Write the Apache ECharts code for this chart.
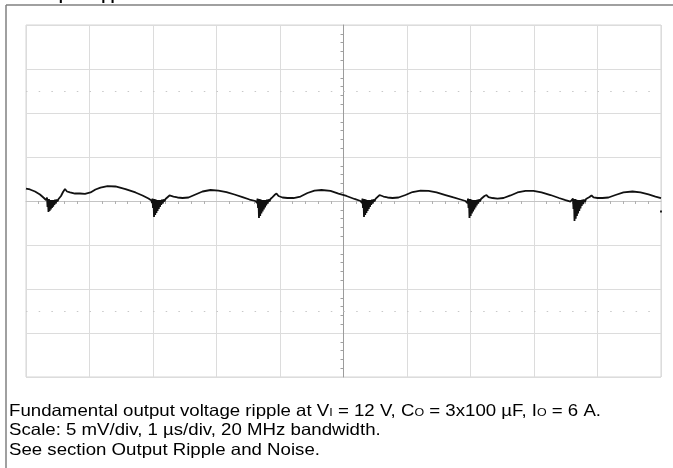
<!DOCTYPE html>
<html><head><meta charset="utf-8">
<script src="https://cdn.jsdelivr.net/npm/echarts@6/dist/echarts.min.js"></script>
<style>html,body{margin:0;padding:0;background:#fff}#c{width:673px;height:468px}</style>
</head><body><div id="c"></div>
<script>
// Axis settings: time in µs (1 µs/div), ripple in mV (5 mV/div)
const xMin = -5, xMax = 5, xStep = 1;
const yMin = -20, yMax = 20, yStep = 5;
const dottedRows = [12.5, -12.5];
const edgeMarker = [5.0, -1.2];

// Trace: [time µs, ripple mV]
const lead = [[-5.0,1.42],[-4.937,1.31],[-4.858,1.08],[-4.78,0.74],[-4.717,0.34],[-4.685,0.11]];
const dip1 = [[-4.677,-0.11],[-4.669,0.40],[-4.661,-0.68],[-4.654,0.23],[-4.646,-1.25],[-4.638,0.23],[-4.628,-1.14],[-4.619,0.11],[-4.609,-0.97],[-4.6,0.11],[-4.591,-0.8],[-4.581,0.11],[-4.572,-0.63],[-4.562,0.11],[-4.553,-0.45],[-4.543,0.17],[-4.531,-0.28],[-4.518,0.17],[-4.504,-0.06],[-4.488,0.23]];
const cycle1 = [[-4.449,0.57],[-4.417,1.02],[-4.386,1.36],[-4.354,1.08],[-4.307,0.97],[-4.228,0.85],[-4.15,0.85],[-4.071,0.8],[-3.984,0.97],[-3.906,1.31],[-3.827,1.53],[-3.717,1.7],[-3.591,1.65],[-3.433,1.36],[-3.276,0.97],[-3.165,0.63],[-3.071,0.28],[-3.024,0.06]];
const dip2 = [[-3.016,-0.23],[-3.008,0.28],[-3.0,-0.8],[-2.992,0.23],[-2.984,-1.82],[-2.975,0.23],[-2.965,-1.59],[-2.956,0.17],[-2.946,-1.36],[-2.937,0.11],[-2.928,-1.14],[-2.918,0.11],[-2.909,-0.91],[-2.899,0.11],[-2.89,-0.68],[-2.88,0.11],[-2.871,-0.45],[-2.86,0.17],[-2.847,-0.28],[-2.835,0.17],[-2.819,-0.06],[-2.803,0.23]];
const cycle2 = [[-2.772,0.34],[-2.74,0.63],[-2.709,0.8],[-2.677,0.51],[-2.614,0.4],[-2.535,0.34],[-2.441,0.4],[-2.331,0.74],[-2.22,1.08],[-2.094,1.25],[-1.969,1.19],[-1.843,1.02],[-1.717,0.74],[-1.591,0.45],[-1.48,0.17],[-1.386,0.0]];
const dip3 = [[-1.362,-0.23],[-1.354,0.28],[-1.346,-0.8],[-1.339,0.23],[-1.331,-1.93],[-1.321,0.23],[-1.312,-1.7],[-1.302,0.17],[-1.293,-1.42],[-1.283,0.11],[-1.274,-1.19],[-1.265,0.11],[-1.255,-0.97],[-1.246,0.11],[-1.236,-0.74],[-1.227,0.11],[-1.217,-0.51],[-1.206,0.17],[-1.194,-0.28],[-1.181,0.17],[-1.165,-0.06],[-1.15,0.23]];
const cycle3 = [[-1.118,0.45],[-1.087,0.68],[-1.055,0.85],[-1.024,0.57],[-0.961,0.4],[-0.882,0.34],[-0.787,0.34],[-0.677,0.51],[-0.567,0.91],[-0.457,1.19],[-0.346,1.25],[-0.205,1.14],[-0.079,0.85],[0.047,0.57],[0.173,0.23],[0.268,0.0]];
const dip4 = [[0.291,-0.23],[0.299,0.28],[0.307,-0.8],[0.315,0.23],[0.323,-1.82],[0.332,0.23],[0.342,-1.59],[0.351,0.17],[0.361,-1.36],[0.37,0.11],[0.38,-1.14],[0.389,0.11],[0.398,-0.91],[0.408,0.11],[0.417,-0.68],[0.427,0.11],[0.436,-0.45],[0.447,0.17],[0.46,-0.28],[0.472,0.17],[0.488,-0.06],[0.504,0.23]];
const cycle4 = [[0.535,0.45],[0.567,0.68],[0.598,0.8],[0.63,0.51],[0.693,0.4],[0.772,0.34],[0.866,0.4],[0.976,0.68],[1.087,1.02],[1.213,1.19],[1.339,1.14],[1.465,0.97],[1.606,0.68],[1.732,0.4],[1.843,0.17],[1.921,0.0]];
const dip5 = [[1.953,-0.23],[1.961,0.28],[1.969,-0.8],[1.976,0.23],[1.984,-1.93],[1.994,0.23],[2.003,-1.7],[2.013,0.17],[2.022,-1.42],[2.031,0.11],[2.041,-1.19],[2.05,0.11],[2.06,-0.97],[2.069,0.11],[2.079,-0.74],[2.088,0.11],[2.098,-0.51],[2.109,0.17],[2.121,-0.28],[2.134,0.17],[2.15,-0.06],[2.165,0.23]];
const cycle5 = [[2.189,0.34],[2.22,0.57],[2.252,0.68],[2.283,0.45],[2.346,0.34],[2.425,0.28],[2.52,0.34],[2.63,0.63],[2.74,0.97],[2.866,1.14],[2.992,1.14],[3.118,0.97],[3.26,0.68],[3.394,0.34],[3.496,0.11],[3.575,-0.06]];
const dip6 = [[3.606,-0.23],[3.614,0.28],[3.622,-0.91],[3.63,0.23],[3.638,-2.27],[3.647,0.23],[3.657,-2.0],[3.666,0.17],[3.676,-1.7],[3.685,0.11],[3.694,-1.42],[3.704,0.11],[3.713,-1.14],[3.723,0.11],[3.732,-0.85],[3.742,0.11],[3.751,-0.57],[3.762,0.17],[3.775,-0.34],[3.787,0.17],[3.803,-0.11],[3.819,0.23]];
const cycle6 = [[3.843,0.28],[3.874,0.45],[3.906,0.63],[3.937,0.4],[4.0,0.34],[4.079,0.34],[4.173,0.4],[4.283,0.68],[4.409,0.97],[4.551,1.08],[4.677,0.97],[4.803,0.74],[4.913,0.51],[5.0,0.34]];

const captionLines = [
  'Fundamental output voltage ripple at V{s|I} = 12 V, C{s|O} = 3x100 µF, I{s|O} = 6 A.',
  'Scale: 5 mV/div, 1 µs/div, 20 MHz bandwidth.',
  'See section Output Ripple and Noise.'
];
const titleText = 'Output Ripple';

const trace = [].concat(lead, dip1, cycle1, dip2, cycle2, dip3, cycle3, dip4, cycle4, dip5, cycle5, dip6, cycle6);

const FONT = '"Liberation Sans", Arial, sans-serif';
const chart = echarts.init(document.getElementById('c'), null, {renderer: 'canvas'});

const captionEls = captionLines.map((t, i) => ({
  type: 'text', x: 9, y: 411 + i * 19.5, scaleX: 1.13, scaleY: 1, silent: true,
  style: {
    text: t, fill: '#000', fontSize: 16.5, fontFamily: FONT,
    verticalAlign: 'middle', textVerticalAlign: 'middle', lineHeight: 20,
    rich: { s: { fontSize: 11, fontFamily: FONT, lineHeight: 20, verticalAlign: 'middle', fill: '#000', padding: [3, 0, 0, 0] } }
  }
}));

chart.setOption({
  animation: false,
  backgroundColor: '#fff',
  grid: { left: 26, top: 25, width: 635, height: 352, show: true, borderColor: '#d4d4d4', borderWidth: 1 },
  xAxis: {
    type: 'value', min: xMin, max: xMax, interval: xStep,
    axisLine: { show: true, onZero: true, lineStyle: { color: '#c4c4c4', width: 1 } },
    axisTick: { show: false },
    minorTick: { show: true, splitNumber: 5, length: 3, lineStyle: { color: '#b0b0b0' } },
    axisLabel: { show: false },
    splitLine: { show: true, lineStyle: { color: '#dcdcdc', width: 1 } }
  },
  yAxis: {
    type: 'value', min: yMin, max: yMax, interval: yStep,
    axisLine: { show: true, onZero: true, lineStyle: { color: '#9c9c9c', width: 1 } },
    axisTick: { show: false },
    minorTick: { show: true, splitNumber: 5, length: 3, lineStyle: { color: '#a0a0a0' } },
    axisLabel: { show: false },
    splitLine: { show: true, lineStyle: { color: '#dcdcdc', width: 1 } }
  },
  series: [{
    type: 'line', data: trace, showSymbol: false, symbol: 'none', sampling: null,
    lineStyle: { color: '#111', width: 1.8 }, z: 5,
    markLine: {
      silent: true, symbol: 'none', label: { show: false },
      lineStyle: { color: '#c8c8c8', type: [1.5, 11.2], width: 1 },
      data: dottedRows.map(v => ({ yAxis: v }))
    },
    markPoint: {
      silent: true, symbol: 'rect', symbolSize: 2, label: { show: false },
      itemStyle: { color: '#222' },
      data: [{ coord: edgeMarker }]
    }
  }],
  graphic: [
    { type: 'line', silent: true, shape: { x1: 6, y1: 5, x2: 673, y2: 5 }, style: { stroke: '#808080', lineWidth: 1.5 } },
    { type: 'line', silent: true, shape: { x1: 6, y1: 5, x2: 6, y2: 468 }, style: { stroke: '#808080', lineWidth: 1.5 } },
    { type: 'text', silent: true, x: 33, y: 3, style: { text: titleText, fill: '#000', fontSize: 15, fontWeight: 'bold', fontFamily: FONT, verticalAlign: 'bottom', textVerticalAlign: 'bottom' } }
  ].concat(captionEls)
});
</script></body></html>
